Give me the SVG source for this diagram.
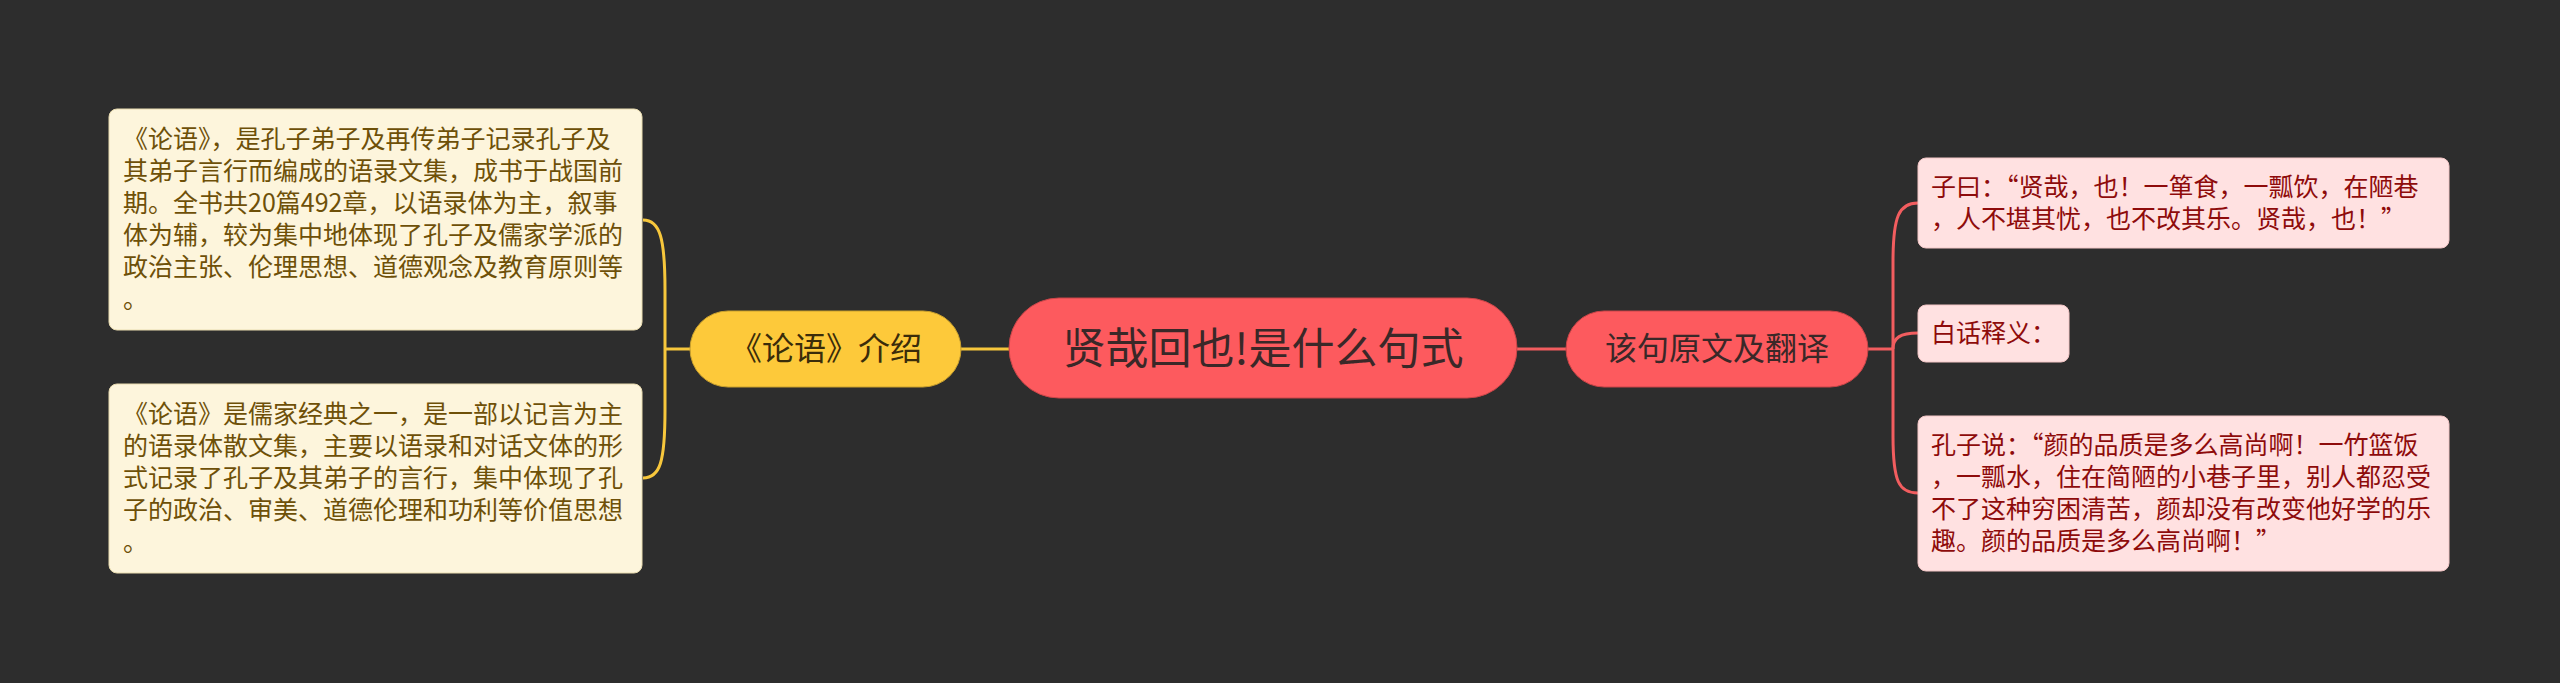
<svg xmlns="http://www.w3.org/2000/svg" width="2560" height="683" viewBox="0 0 2560 683">
<style>
.t{font-family:"Noto Sans CJK SC","Noto Sans",sans-serif;}
.lbox{fill:#fdf5dc;stroke:#e9dcb0;stroke-width:1;}
.ltxt{fill:#6e5008;font-size:25px;}
.rbox{fill:#ffe1e1;stroke:#f3c6c6;stroke-width:1;}
.rtxt{fill:#8e0b0b;font-size:25px;}
.yc{fill:none;stroke:#f7c73c;stroke-width:3;}
.rc{fill:none;stroke:#f25d5f;stroke-width:3;}
</style>
<rect width="2560" height="683" fill="#2d2d2d"/>
<g id="connectors">
<path class="yc" d="M961 349 L1009 349"/>
<path class="yc" d="M690 349 L665 349"/>
<path class="yc" d="M665 349 L665 290 C665 238 660 220 643 220"/>
<path class="yc" d="M665 349 L665 410 C665 462 660 478 643 478"/>
<path class="rc" d="M1517 349 L1566 349"/>
<path class="rc" d="M1868 349 L1893 349"/>
<path class="rc" d="M1893 349 L1893 262 C1893 216 1899 203 1918 203"/>
<path class="rc" d="M1893 349 C1893 338 1900 333 1918 333"/>
<path class="rc" d="M1893 349 L1893 436 C1893 482 1899 493 1918 493"/>
</g>
<g id="center">
<rect x="1009" y="298" width="508" height="100" rx="50" fill="#fd5a5e" stroke="#c94548" stroke-width="1"/>
<text class="t" x="1263" y="364" text-anchor="middle" font-size="43" fill="#3a2828">贤哉回也!是什么句式</text>
</g>
<g id="intro">
<rect x="690" y="311" width="271" height="76" rx="38" fill="#fdc93a" stroke="#c9a02d" stroke-width="1"/>
<text class="t" x="826" y="360" text-anchor="middle" font-size="32" fill="#3a2c0a">《论语》介绍</text>
</g>
<g id="translation">
<rect x="1566" y="311" width="302" height="76" rx="38" fill="#fd5a5e" stroke="#c94548" stroke-width="1"/>
<text class="t" x="1717" y="360" text-anchor="middle" font-size="32" fill="#3a2828">该句原文及翻译</text>
</g>
<g id="intro1">
<rect class="lbox" x="109" y="109" width="533" height="221" rx="8"/>
<text class="t ltxt" x="123">
<tspan x="123" y="148">《论语》，是孔子弟子及再传弟子记录孔子及</tspan>
<tspan x="123" y="180">其弟子言行而编成的语录文集，成书于战国前</tspan>
<tspan x="123" y="212">期。全书共20篇492章，以语录体为主，叙事</tspan>
<tspan x="123" y="244">体为辅，较为集中地体现了孔子及儒家学派的</tspan>
<tspan x="123" y="276">政治主张、伦理思想、道德观念及教育原则等</tspan>
<tspan x="123" y="308">。</tspan>
</text>
</g>
<g id="intro2">
<rect class="lbox" x="109" y="384" width="533" height="189" rx="8"/>
<text class="t ltxt">
<tspan x="123" y="423">《论语》是儒家经典之一，是一部以记言为主</tspan>
<tspan x="123" y="455">的语录体散文集，主要以语录和对话文体的形</tspan>
<tspan x="123" y="487">式记录了孔子及其弟子的言行，集中体现了孔</tspan>
<tspan x="123" y="519">子的政治、审美、道德伦理和功利等价值思想</tspan>
<tspan x="123" y="551">。</tspan>
</text>
</g>
<g id="original">
<rect class="rbox" x="1918" y="158" width="531" height="90" rx="8"/>
<text class="t rtxt">
<tspan x="1931" y="196">子曰：“贤哉，也！一箪食，一瓢饮，在陋巷</tspan>
<tspan x="1931" y="228">，人不堪其忧，也不改其乐。贤哉，也！”</tspan>
</text>
</g>
<g id="vernacular">
<rect class="rbox" x="1918" y="305" width="151" height="57" rx="8"/>
<text class="t rtxt" x="1931" y="342">白话释义：</text>
</g>
<g id="translation-text">
<rect class="rbox" x="1918" y="416" width="531" height="155" rx="8"/>
<text class="t rtxt">
<tspan x="1931" y="454">孔子说：“颜的品质是多么高尚啊！一竹篮饭</tspan>
<tspan x="1931" y="486">，一瓢水，住在简陋的小巷子里，别人都忍受</tspan>
<tspan x="1931" y="518">不了这种穷困清苦，颜却没有改变他好学的乐</tspan>
<tspan x="1931" y="550">趣。颜的品质是多么高尚啊！”</tspan>
</text>
</g>
</svg>
